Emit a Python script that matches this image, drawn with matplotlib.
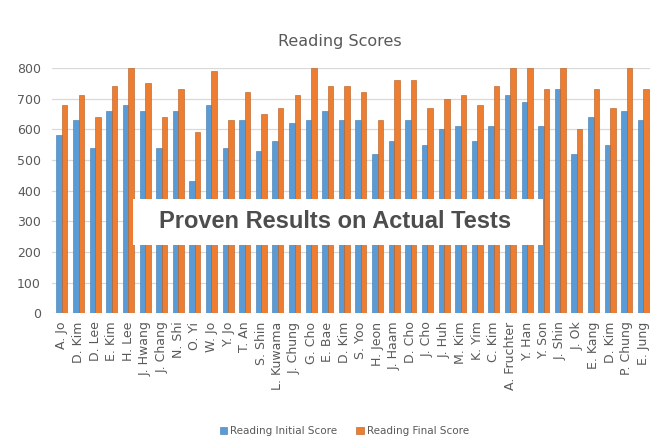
import matplotlib.pyplot as plt
from matplotlib.patches import Rectangle
import numpy as np

names = ["A. Jo", "D. Kim", "D. Lee", "E. Kim", "H. Lee", "J. Hwang", "J. Chang",
         "N. Shi", "O. Yi", "W. Jo", "Y. Jo", "T. An", "S. Shin", "L. Kuwama",
         "J. Chung", "G. Cho", "E. Bae", "D. Kim", "S. Yoo", "H. Jeon", "J. Haam",
         "D. Cho", "J. Cho", "J. Huh", "M. Kim", "K. Yim", "C. Kim", "A. Fruchter",
         "Y. Han", "Y. Son", "J. Shin", "J. Ok", "E. Kang", "D. Kim", "P. Chung",
         "E. Jung"]
initial = [580, 630, 540, 660, 680, 660, 540, 660, 430, 680, 540, 630, 530, 560,
           620, 630, 660, 630, 630, 520, 560, 630, 550, 600, 610, 560, 610, 710,
           690, 610, 730, 520, 640, 550, 660, 630]
final = [680, 710, 640, 740, 800, 750, 640, 730, 590, 790, 630, 720, 650, 670,
         710, 800, 740, 740, 720, 630, 760, 760, 670, 700, 710, 680, 740, 800,
         800, 730, 800, 600, 730, 670, 800, 730]

blue = "#5B9BD5"
orange = "#ED7D31"
grey = "#595959"

fig = plt.figure(figsize=(6.5, 4.38), dpi=100)
ax = fig.add_axes([0.08, 0.285, 0.92, 0.56])

x = np.arange(len(names))
w = 0.33
ax.bar(x - w / 2, initial, w, color=blue, edgecolor="#3d78ad", linewidth=0.4,
       label="Reading Initial Score", zorder=3)
ax.bar(x + w / 2, final, w, color=orange, edgecolor="#b35a1f", linewidth=0.4,
       label="Reading Final Score", zorder=3)

ax.set_xlim(-0.6, 35.4)
ax.set_ylim(0, 800)
ax.set_yticks(range(0, 801, 100))
ax.yaxis.grid(True, color="#d9d9d9", linewidth=0.9, zorder=0)
for s in ax.spines.values():
    s.set_visible(False)
ax.tick_params(axis="both", length=0, colors=grey, labelsize=9)
ax.tick_params(axis="y", pad=8)
ax.tick_params(axis="x", pad=6)
ax.set_xticks(x)
ax.set_xticklabels(names, rotation=90, fontsize=9)

fig.text(0.523, 0.905, "Reading Scores", ha="center", va="center",
         fontsize=11.5, color=grey)

fig.legend(loc="center", bbox_to_anchor=(0.53, 0.015), ncol=2, frameon=False,
           fontsize=7.5, handlelength=0.7, handleheight=0.7, handletextpad=0.3,
           columnspacing=1.8, labelcolor=grey)

# overlay banner
fig.add_artist(Rectangle((133 / 650, 1 - 245 / 438), 410 / 650, 46 / 438,
                         transform=fig.transFigure, facecolor="white",
                         edgecolor="none", zorder=10))
fig.text(335 / 650, 1 - 222 / 438, "Proven Results on Actual Tests", ha="center",
         va="center", fontsize=17, fontweight="bold", color="#4d4d4d",
         family="Liberation Sans", zorder=11)

fig.savefig("out.png", dpi=100)
